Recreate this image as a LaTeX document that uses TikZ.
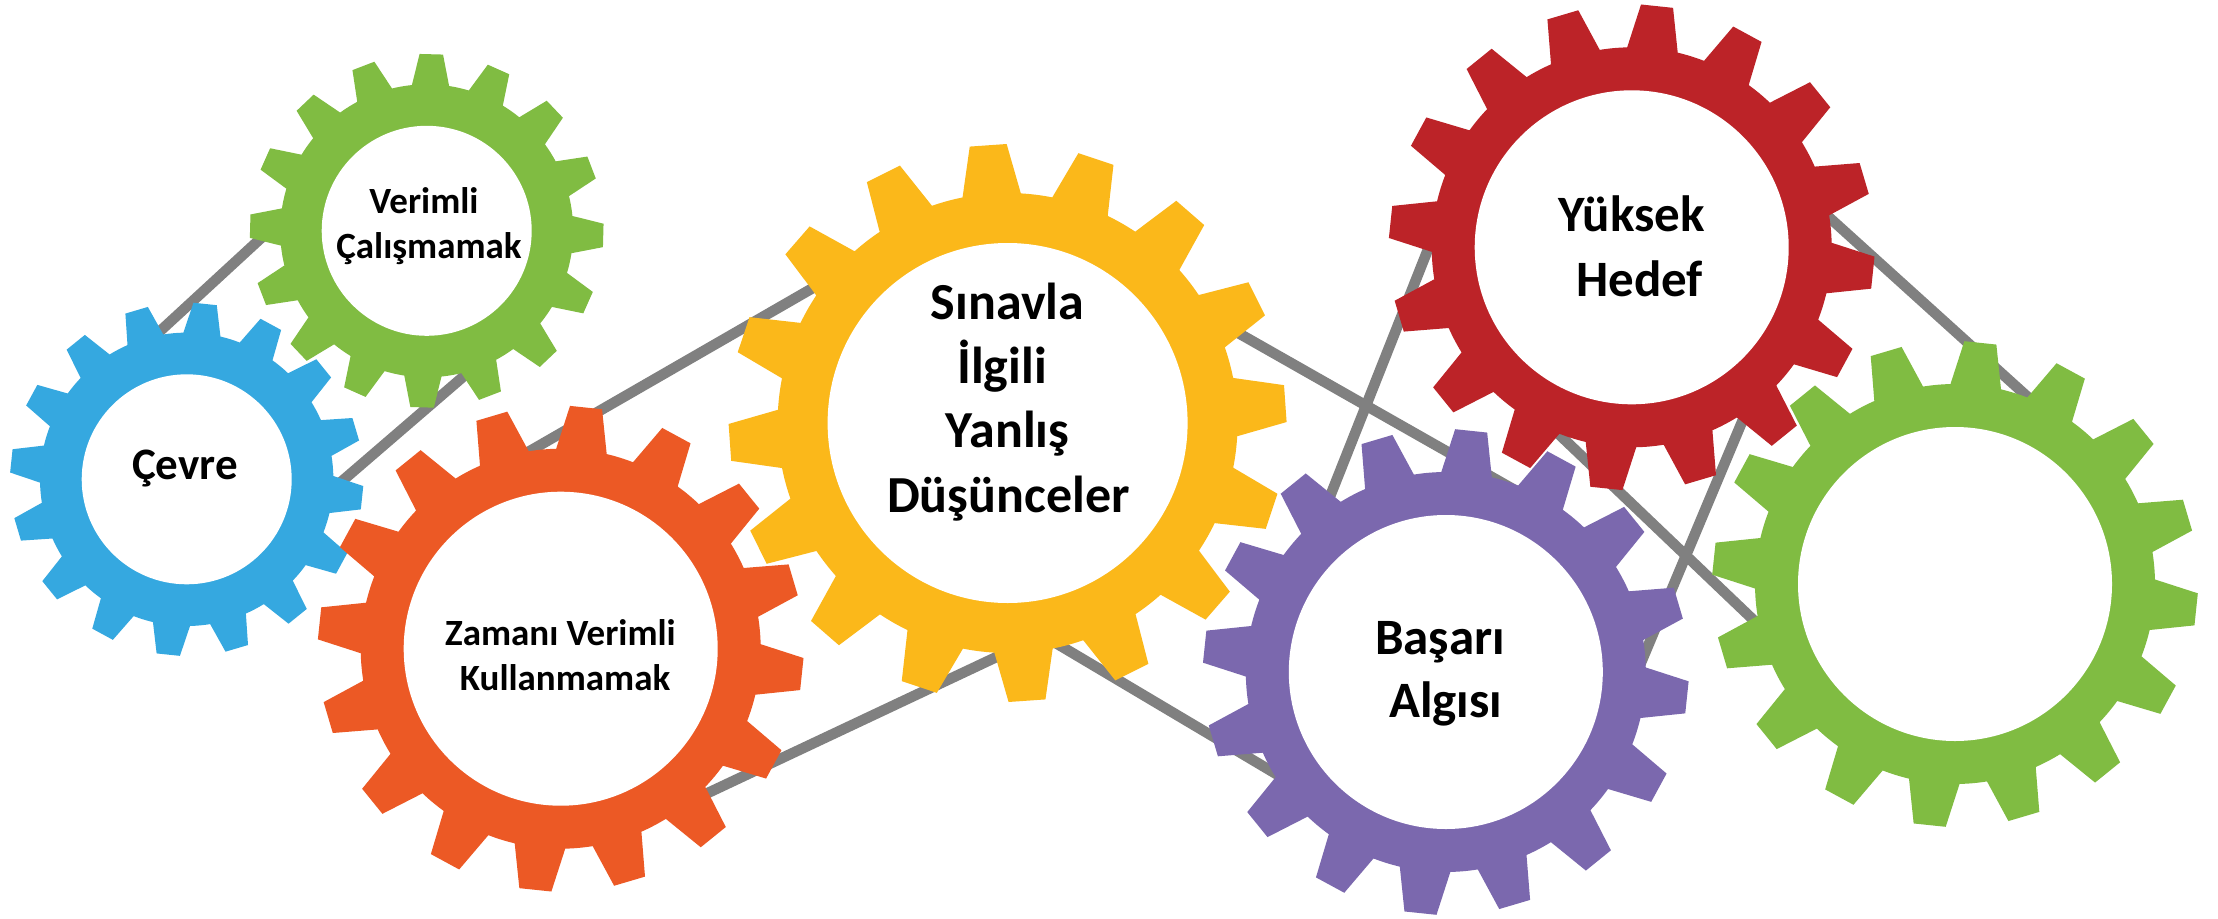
\documentclass[tikz,border=0pt]{standalone}
\usepackage{fontspec}
\setmainfont{Carlito}
\definecolor{gblue}{HTML}{35A8E0}
\definecolor{ggreen}{HTML}{80BC42}
\definecolor{gorange}{HTML}{EC5925}
\definecolor{gyellow}{HTML}{FBB81A}
\definecolor{gred}{HTML}{BC2328}
\definecolor{gpurple}{HTML}{7B68AE}
\definecolor{linkgray}{HTML}{808080}
% #1 centre, #2 colour, #3 tip radius, #4 body radius, #5 hole radius, #6 angle offset
\newcommand{\gearshape}[6]{%
  \begin{scope}[shift={(#1)}]
    \fill[#2] ({#6-7.3}:#4)
      \foreach \k in {0,...,15}{
        -- ({#6+22.5*\k-3.8}:#3) -- ({#6+22.5*\k+3.8}:#3) -- ({#6+22.5*\k+7.3}:#4)
        arc[start angle={#6+22.5*\k+7.3}, end angle={#6+22.5*\k+15.2}, radius=#4]
      } -- cycle;
    \fill[white] (0,0) circle[radius=#5];
  \end{scope}}
\begin{document}
\begin{tikzpicture}[x=1pt,y=-1pt,
  link/.style={draw=linkgray, line width=10.5pt},
  lbl/.style={anchor=base, inner sep=0pt, font=\bfseries}]
\useasboundingbox (0,0) rectangle (2218,918);
\fill[white] (0,0) rectangle (2218,918);
% gear centres
\coordinate (cevre) at (186.7,479.3);
\coordinate (verimli) at (426.7,230.8);
\coordinate (zaman) at (560.7,648.7);
\coordinate (sinav) at (1007.6,423);
\coordinate (yuksek) at (1631.7,247.3);
\coordinate (basari) at (1445.8,672);
\coordinate (bos) at (1955,584);
% connector ends
\coordinate (a1) at (120,368);   \coordinate (a2) at (360,147);
\coordinate (b1) at (300,517.3); \coordinate (b2) at (500,345);
\coordinate (c1) at (500,468.2); \coordinate (c2) at (850,266.6);
\coordinate (d1) at (670,810.8); \coordinate (d2) at (1030,641.2);
\coordinate (e1) at (1200,311.3); \coordinate (e2) at (1520,493);
\coordinate (f1) at (1440,219);  \coordinate (f2) at (1316.7,530);
\coordinate (g1) at (1752,398);  \coordinate (g2) at (1640,665);
\coordinate (h1) at (1545,421);  \coordinate (h2) at (1765,631);
\coordinate (i1) at (1815,204.6); \coordinate (i2) at (2045,412.6);
\coordinate (j1) at (1050,639.6); \coordinate (j2) at (1285,779.2);
% connectors
\draw[link] (a1) -- (a2);
\draw[link] (b1) -- (b2);
\draw[link] (c1) -- (c2);
\draw[link] (d1) -- (d2);
\draw[link] (e1) -- (e2);
\draw[link] (f1) -- (f2);
\draw[link] (g1) -- (g2);
\draw[link] (h1) -- (h2);
\draw[link] (i1) -- (i2);
\draw[link] (j1) -- (j2);
% gears
\gearshape{cevre}{gblue}{176.7}{146.7}{105}{-84}
\gearshape{verimli}{ggreen}{177}{146.5}{105}{-88.5}
\gearshape{zaman}{gorange}{243}{200}{157}{-84}
\gearshape{sinav}{gyellow}{279}{230}{180}{-94}
\gearshape{basari}{gpurple}{243}{200}{157}{-84}
\gearshape{yuksek}{gred}{243}{200}{157}{-84}
\gearshape{bos}{ggreen}{243}{200}{157}{-84}
% texts
\node[lbl, font=\fontsize{45}{54}\selectfont\bfseries] (t1) at (185,479) {Çevre};
\node[lbl, font=\fontsize{37}{45}\selectfont\bfseries] (t2a) at (424,213.3) {Verimli};
\node[lbl, font=\fontsize{37}{45}\selectfont\bfseries] (t2b) at (429,258.3) {Çalışmamak};
\node[lbl, font=\fontsize{37}{45}\selectfont\bfseries] (t3a) at (560.5,645) {Zamanı Verimli};
\node[lbl, font=\fontsize{37}{45}\selectfont\bfseries] (t3b) at (565,690) {Kullanmamak};
\node[lbl, font=\fontsize{52}{64}\selectfont\bfseries] (t4a) at (1007.6,319) {Sınavla};
\node[lbl, font=\fontsize{52}{64}\selectfont\bfseries] (t4b) at (1002,383) {İlgili};
\node[lbl, font=\fontsize{52}{64}\selectfont\bfseries] (t4c) at (1007.6,447.6) {Yanlış};
\node[lbl, font=\fontsize{52}{64}\selectfont\bfseries] (t4d) at (1008.4,512.4) {Düşünceler};
\node[lbl, font=\fontsize{51}{64}\selectfont\bfseries] (t5a) at (1631.7,231.7) {Yüksek};
\node[lbl, font=\fontsize{51}{64}\selectfont\bfseries] (t5b) at (1639.5,296) {Hedef};
\node[lbl, font=\fontsize{51}{64}\selectfont\bfseries] (t6a) at (1440,654) {Başarı};
\node[lbl, font=\fontsize{51}{64}\selectfont\bfseries] (t6b) at (1445.8,717.3) {Algısı};
\end{tikzpicture}
\end{document}
